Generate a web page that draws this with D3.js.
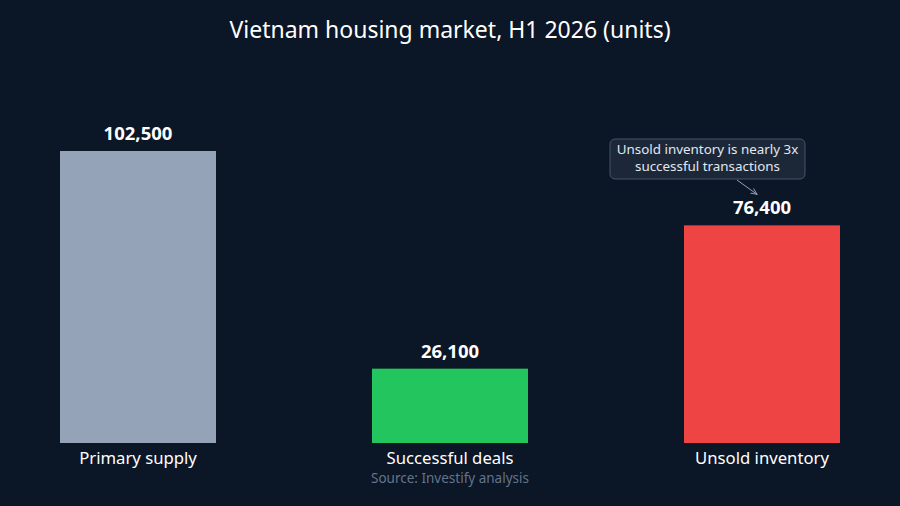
<!DOCTYPE html>
<html><head><meta charset="utf-8">
<script src="https://cdn.jsdelivr.net/npm/d3@7"></script>
<style>html,body{margin:0;padding:0;background:#0b1626;}svg{display:block;}</style>
</head><body>
<svg id="c" width="900" height="506"></svg>
<script>
const categories = ["Primary supply", "Successful deals", "Unsold inventory"];
const values = [102500, 26100, 76400];
const colors = ["#94a3b8", "#22c55e", "#ef4444"];
const title = "Vietnam housing market, H1 2026 (units)";
const source = "Source: Investify analysis";
const noteLines = ["Unsold inventory is nearly 3x", "successful transactions"];

const W = 900, H = 506;
const svg = d3.select("#c");
svg.append("rect").attr("width", W).attr("height", H).attr("fill", "#0b1626");
const font = "'Noto Sans', 'Open Sans', sans-serif";

const x = d3.scaleBand().domain(categories).range([60, 840]).paddingInner(0.5).paddingOuter(0);
const maxV = d3.max(values);
const y = d3.scaleLinear().domain([0, maxV * 1.15]).range([443, 443 - 292 * 1.15]);

svg.append("text").attr("x", W / 2).attr("y", 38).attr("text-anchor", "middle")
  .attr("fill", "#ffffff").attr("font-family", font).attr("font-size", 23).text(title);

const g = svg.append("g");
g.selectAll("rect.bar").data(categories).join("rect").attr("class", "bar")
  .attr("x", d => x(d)).attr("width", x.bandwidth())
  .attr("y", (d, i) => y(values[i])).attr("height", (d, i) => y(0) - y(values[i]))
  .attr("fill", (d, i) => colors[i]);

g.selectAll("text.val").data(categories).join("text").attr("class", "val")
  .attr("x", d => x(d) + x.bandwidth() / 2).attr("y", (d, i) => y(values[i]) - 11)
  .attr("text-anchor", "middle").attr("fill", "#ffffff").attr("font-family", font)
  .attr("font-weight", "bold").attr("font-size", 18.5)
  .text((d, i) => d3.format(",")(values[i]));

const xAxis = d3.axisBottom(x).tickSize(0).tickPadding(9);
const ax = svg.append("g").attr("transform", `translate(0,${y(0)})`).call(xAxis);
ax.select(".domain").remove();
ax.selectAll("text").attr("fill", "#ffffff").attr("font-family", font).attr("font-size", 16.7);

svg.append("text").attr("x", W / 2).attr("y", 483).attr("text-anchor", "middle")
  .attr("fill", "#64748b").attr("font-family", font).attr("font-size", 13.5).text(source);

// annotation
const lastCat = categories[2];
const cx = x(lastCat) + x.bandwidth() / 2;
const ann = svg.append("g");
const boxX = cx - 152, boxY = 139, boxW = 195, boxH = 40;
ann.append("rect").attr("x", boxX).attr("y", boxY).attr("width", boxW).attr("height", boxH)
  .attr("rx", 5).attr("fill", "#1e293b").attr("fill-opacity", 0.9)
  .attr("stroke", "#475569").attr("stroke-width", 1);
noteLines.forEach((t, i) => {
  ann.append("text").attr("x", boxX + boxW / 2).attr("y", boxY + 15 + i * 16.5)
    .attr("text-anchor", "middle").attr("fill", "#e2e8f0").attr("font-family", font)
    .attr("font-size", 13.4).text(t);
});
svg.append("defs").append("marker").attr("id", "arr").attr("viewBox", "0 0 10 10")
  .attr("refX", 9).attr("refY", 5).attr("markerWidth", 7).attr("markerHeight", 7).attr("orient", "auto")
  .append("path").attr("d", "M0,1 L9,5 L0,9").attr("fill", "none").attr("stroke", "#94a3b8").attr("stroke-width", 1.3);
ann.append("line").attr("x1", cx - 25).attr("y1", boxY + boxH + 1)
  .attr("x2", cx - 5).attr("y2", y(values[2]) - 31)
  .attr("stroke", "#94a3b8").attr("stroke-width", 1).attr("marker-end", "url(#arr)");
</script>
</body></html>
